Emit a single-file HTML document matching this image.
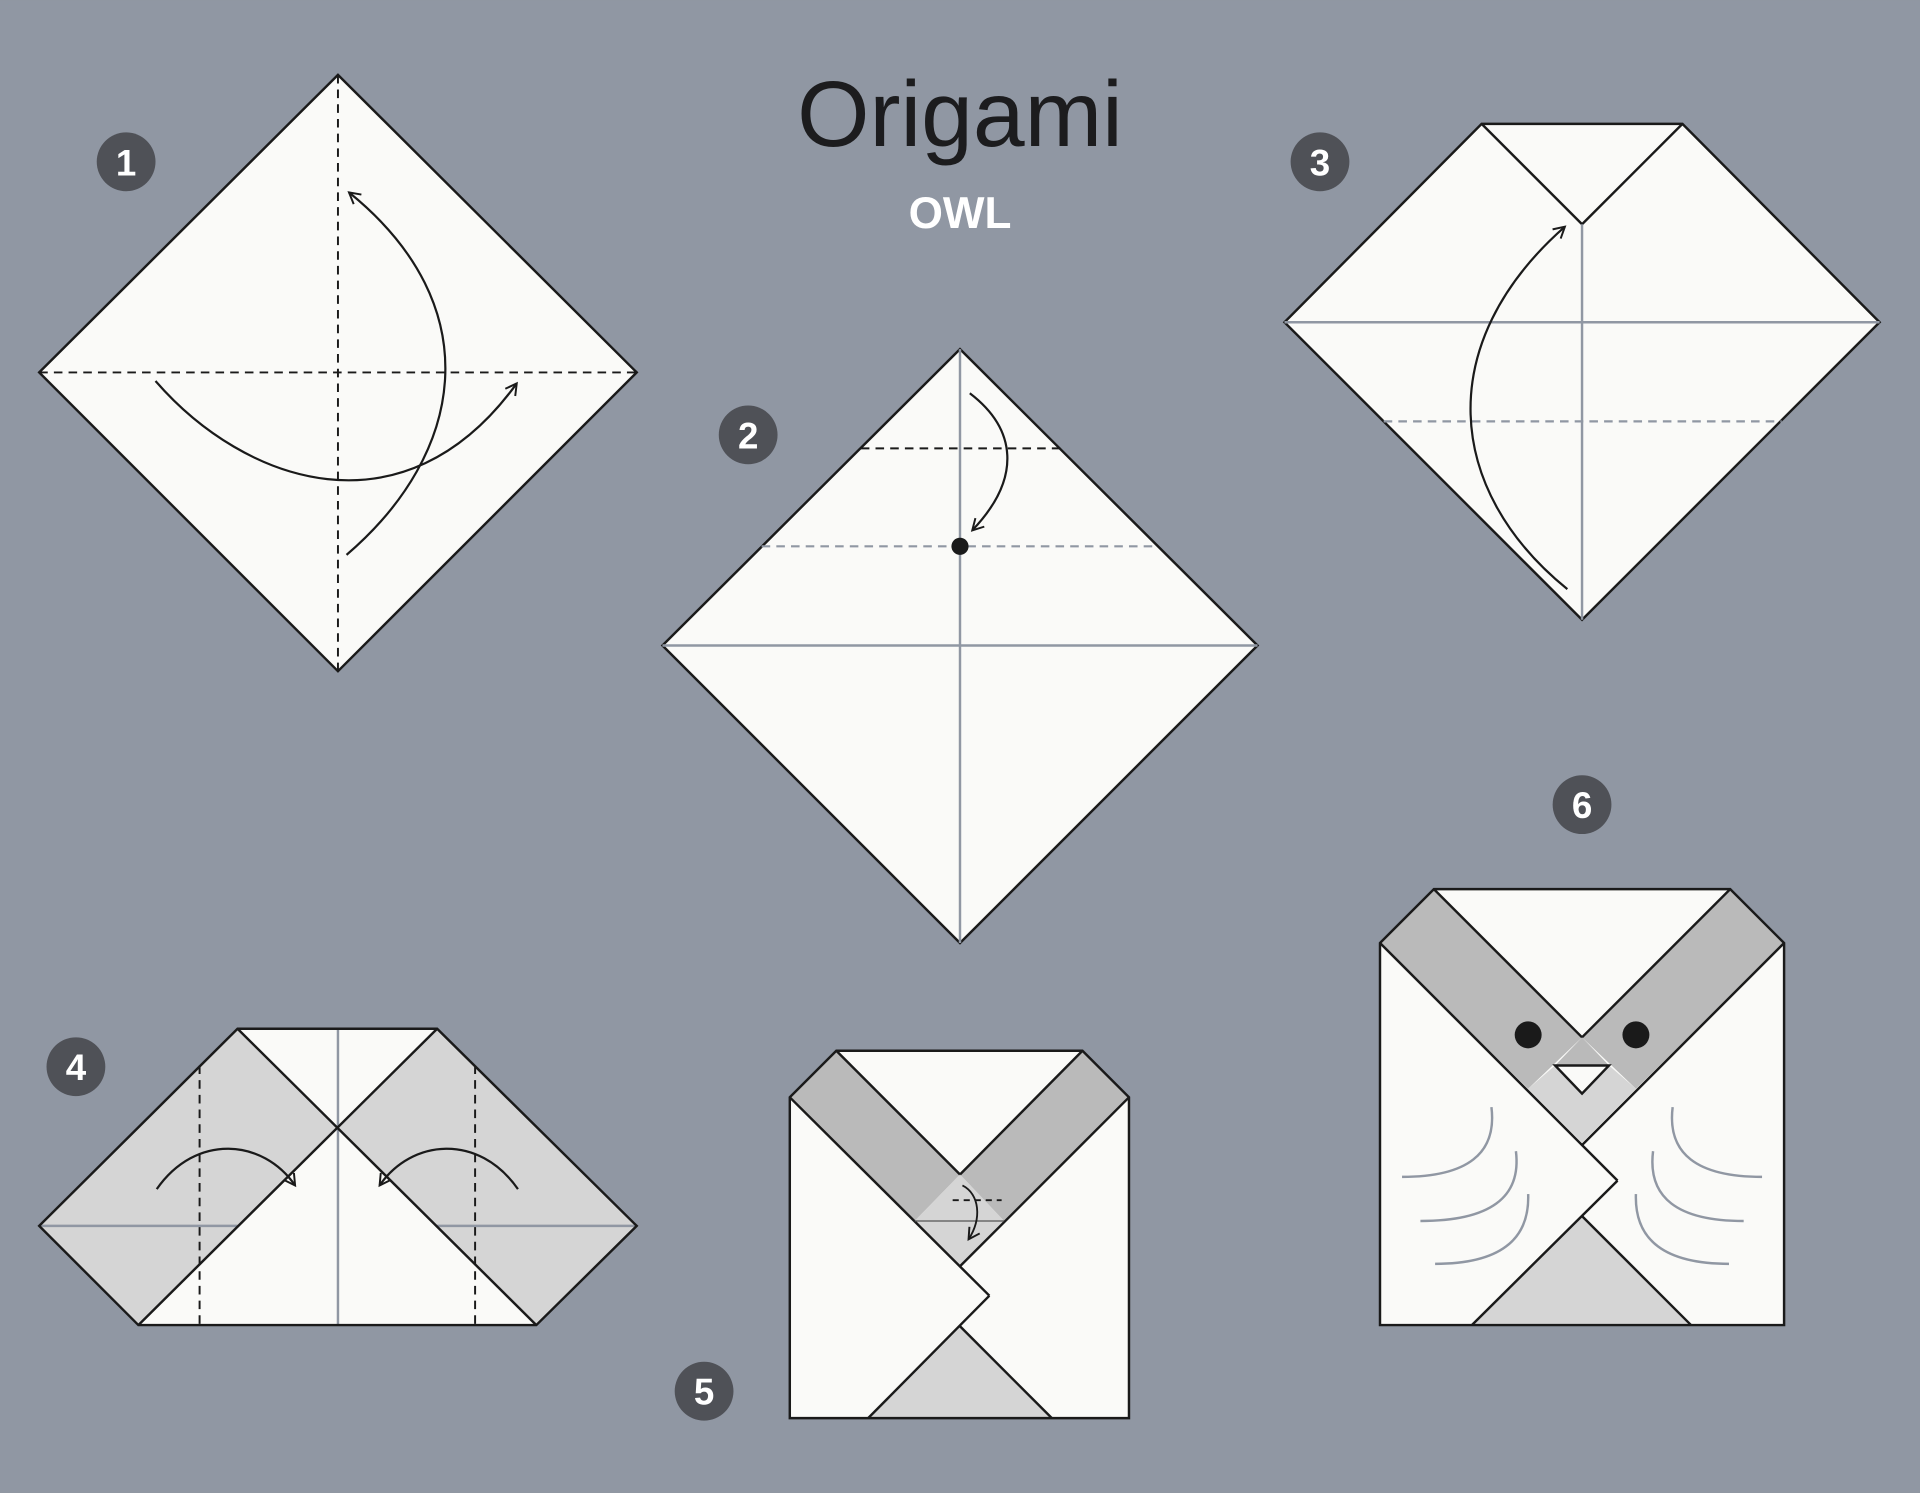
<!DOCTYPE html>
<html><head><meta charset="utf-8"><style>
html,body{margin:0;padding:0;background:#9097a3;}
svg{display:block;}
</style></head><body>
<svg width="1920" height="1493" viewBox="0 0 1568 1219" xmlns="http://www.w3.org/2000/svg">
<defs>
<marker id="ah" viewBox="0 0 12 12" refX="10" refY="6" markerWidth="12" markerHeight="12" markerUnits="userSpaceOnUse" orient="auto">
<path d="M1,1 L10,6 L1,11" fill="none" stroke="#1a1a1a" stroke-width="1.6"/>
</marker>
</defs>
<rect width="1568" height="1219" fill="#9097a3"/>

<text x="784" y="119" text-anchor="middle" font-family="Liberation Sans, sans-serif" font-size="76" fill="#1c1c1e">Origami</text>
<text x="784" y="186" text-anchor="middle" font-family="Liberation Sans, sans-serif" font-weight="bold" font-size="36" fill="#ffffff">OWL</text>

<g stroke="#1a1a1a" fill="none">
<polygon points="276,61 520,304 276,548 32,304" fill="#fafaf8" stroke-width="2"/>
<line x1="32" y1="304" x2="520" y2="304" stroke-dasharray="7,5" stroke-width="1.6"/>
<line x1="276" y1="61" x2="276" y2="548" stroke-dasharray="7,5" stroke-width="1.6"/>
<path d="M127,311 C200,395 330,440 422,313" stroke-width="1.8" marker-end="url(#ah)"/>
<path d="M283,453 C380,370 400,250 285,157" stroke-width="1.8" marker-end="url(#ah)"/>
</g>

<g fill="none">
<polygon points="784,285 1027,527 784,770 541,527" fill="#fafaf8" stroke="#1a1a1a" stroke-width="2"/>
<line x1="784" y1="285" x2="784" y2="770" stroke="#9097a3" stroke-width="2"/>
<line x1="541" y1="527" x2="1027" y2="527" stroke="#9097a3" stroke-width="2"/>
<line x1="703" y1="366" x2="866" y2="366" stroke="#1a1a1a" stroke-dasharray="7,5" stroke-width="1.6"/>
<line x1="622" y1="446" x2="946" y2="446" stroke="#9097a3" stroke-dasharray="7,5" stroke-width="1.8"/>
<circle cx="784" cy="446" r="7" fill="#1a1a1a"/>
<path d="M792,321 C830,350 835,390 794,433" stroke="#1a1a1a" stroke-width="1.8" marker-end="url(#ah)"/>
</g>

<g fill="none">
<polygon points="1210,101 1374,101 1535,263 1292,506 1049,263" fill="#fafaf8" stroke="#1a1a1a" stroke-width="2"/>
<polyline points="1210,101 1292,183 1374,101" stroke="#1a1a1a" stroke-width="2"/>
<line x1="1292" y1="183" x2="1292" y2="506" stroke="#9097a3" stroke-width="2"/>
<line x1="1049" y1="263" x2="1535" y2="263" stroke="#9097a3" stroke-width="2"/>
<line x1="1130" y1="344" x2="1455" y2="344" stroke="#9097a3" stroke-dasharray="7,5" stroke-width="1.8"/>
<path d="M1280,481 C1180,400 1170,280 1278,185" stroke="#1a1a1a" stroke-width="1.8" marker-end="url(#ah)"/>
</g>

<g fill="none">
<polygon points="194,840 357,840 520,1001 438,1082 113,1082 32,1001" fill="#fafaf8"/>
<polygon points="32,1001 194,840 276,921 113,1082" fill="#d5d5d5"/>
<polygon points="520,1001 357,840 276,921 438,1082" fill="#d5d5d5"/>
<line x1="276" y1="840" x2="276" y2="1082" stroke="#9097a3" stroke-width="2"/>
<line x1="32" y1="1001" x2="194" y2="1001" stroke="#9097a3" stroke-width="2"/>
<line x1="357" y1="1001" x2="520" y2="1001" stroke="#9097a3" stroke-width="2"/>
<line x1="194" y1="840" x2="438" y2="1082" stroke="#1a1a1a" stroke-width="2"/>
<line x1="357" y1="840" x2="113" y2="1082" stroke="#1a1a1a" stroke-width="2"/>
<line x1="163" y1="870" x2="163" y2="1082" stroke="#1a1a1a" stroke-dasharray="7,5" stroke-width="1.6"/>
<line x1="388" y1="870" x2="388" y2="1082" stroke="#1a1a1a" stroke-dasharray="7,5" stroke-width="1.6"/>
<polygon points="194,840 357,840 520,1001 438,1082 113,1082 32,1001" stroke="#1a1a1a" stroke-width="2"/>
<path d="M128,971 C160,925 215,930 241,968" stroke="#1a1a1a" stroke-width="1.8" marker-end="url(#ah)"/>
<path d="M423,971 C391,925 336,930 310,968" stroke="#1a1a1a" stroke-width="1.8" marker-end="url(#ah)"/>
</g>

<g fill="none">
<polygon points="683,858 884,858 922,896 922,1158 645,1158 645,896" fill="#fafaf8"/>
<polygon points="645,896 683,858 784,959 747,997" fill="#bababa"/>
<polygon points="922,896 884,858 784,959 820,997" fill="#bababa"/>
<polygon points="747,997 784,959 820,997 784,1034" fill="#d5d5d5"/>
<polygon points="709,1158 784,1083 859,1158" fill="#d5d5d5"/>
<g stroke="#1a1a1a" stroke-width="2">
<line x1="683" y1="858" x2="784" y2="959"/>
<line x1="884" y1="858" x2="784" y2="959"/>
<line x1="645" y1="896" x2="808" y2="1058"/>
<line x1="808" y1="1058" x2="709" y2="1158"/>
<line x1="784" y1="1083" x2="859" y2="1158"/>
<line x1="922" y1="896" x2="784" y2="1034"/>
<line x1="747" y1="997" x2="820" y2="997" stroke="#555" stroke-width="1"/>
<polygon points="683,858 884,858 922,896 922,1158 645,1158 645,896"/>
</g>
<line x1="778" y1="980" x2="818" y2="980" stroke="#1a1a1a" stroke-dasharray="5,4" stroke-width="1.5"/>
<path d="M786,968 C800,975 802,995 791,1012" stroke="#1a1a1a" stroke-width="1.5" marker-end="url(#ah)"/>
</g>

<g fill="none">
<polygon points="1171,726 1413,726 1457,770 1457,1082 1127,1082 1127,770" fill="#fafaf8"/>
<polygon points="1127,770 1171,726 1292,847 1248,889" fill="#bababa"/>
<polygon points="1457,770 1413,726 1292,847 1336,889" fill="#bababa"/>
<polygon points="1248,889 1270,870 1314,870 1336,889 1292,933" fill="#d5d5d5"/>
<polygon points="1270,870 1292,847 1314,870" fill="#bababa"/>
<polygon points="1270,870 1314,870 1292,893" fill="#fafaf8"/>
<polygon points="1202,1082 1292,993 1381,1082" fill="#d5d5d5"/>
<g stroke="#1a1a1a" stroke-width="2">
<line x1="1171" y1="726" x2="1292" y2="847"/>
<line x1="1413" y1="726" x2="1292" y2="847"/>
<line x1="1127" y1="770" x2="1321" y2="964"/>
<line x1="1321" y1="964" x2="1202" y2="1082"/>
<line x1="1292" y1="993" x2="1381" y2="1082"/>
<line x1="1457" y1="770" x2="1292" y2="935"/>
<polygon points="1270,870 1314,870 1292,893"/>
<polygon points="1171,726 1413,726 1457,770 1457,1082 1127,1082 1127,770"/>
</g>
<circle cx="1248" cy="845" r="11" fill="#1a1a1a"/>
<circle cx="1336" cy="845" r="11" fill="#1a1a1a"/>
<g stroke="#9097a3" stroke-width="2">
<path d="M1218,904 Q1225,961 1145,961"/>
<path d="M1238,940 Q1245,997 1160,997"/>
<path d="M1248,975 Q1250,1032 1172,1032"/>
<path d="M1366,904 Q1359,961 1439,961"/>
<path d="M1350,940 Q1343,997 1424,997"/>
<path d="M1336,975 Q1334,1032 1412,1032"/>
</g>
</g>

<g font-family="Liberation Sans, sans-serif" font-weight="bold" font-size="30" fill="#ffffff" text-anchor="middle">
<circle cx="103" cy="132" r="24" fill="#4f5157"/><text x="103" y="143">1</text>
<circle cx="611" cy="355" r="24" fill="#4f5157"/><text x="611" y="366">2</text>
<circle cx="1078" cy="132" r="24" fill="#4f5157"/><text x="1078" y="143">3</text>
<circle cx="62" cy="871" r="24" fill="#4f5157"/><text x="62" y="882">4</text>
<circle cx="575" cy="1136" r="24" fill="#4f5157"/><text x="575" y="1147">5</text>
<circle cx="1292" cy="657" r="24" fill="#4f5157"/><text x="1292" y="668">6</text>
</g>
</svg>
</body></html>
